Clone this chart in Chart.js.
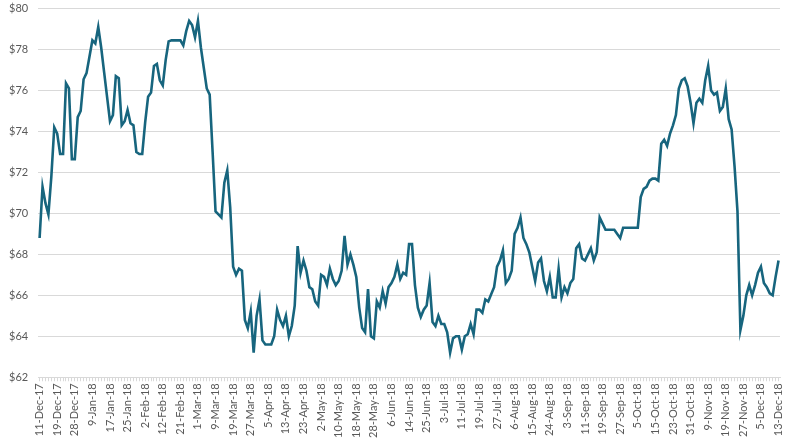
<!DOCTYPE html>
<html>
<head>
<meta charset="utf-8">
<title>Price</title>
<script src="https://cdn.jsdelivr.net/npm/chart.js@4/dist/chart.umd.min.js"></script>
<style>
    html, body { margin: 0; padding: 0; background: #ffffff; }
    #wrap { width: 798px; height: 446px; position: relative; }
</style>
</head>
<body>
<div id="wrap"><canvas id="priceChart"></canvas></div>
<script>
// ── DATA ─────────────────────────────────────────────────────────
// one labelled date every 6 trading days
const tickLabels = [
    '11-Dec-17', '19-Dec-17', '28-Dec-17', '9-Jan-18', '17-Jan-18', '25-Jan-18',
    '2-Feb-18', '12-Feb-18', '21-Feb-18', '1-Mar-18', '9-Mar-18', '19-Mar-18',
    '27-Mar-18', '5-Apr-18', '13-Apr-18', '23-Apr-18', '2-May-18', '10-May-18',
    '18-May-18', '28-May-18', '6-Jun-18', '14-Jun-18', '25-Jun-18', '3-Jul-18',
    '11-Jul-18', '19-Jul-18', '27-Jul-18', '6-Aug-18', '15-Aug-18', '24-Aug-18',
    '3-Sep-18', '11-Sep-18', '19-Sep-18', '27-Sep-18', '5-Oct-18', '15-Oct-18',
    '23-Oct-18', '31-Oct-18', '9-Nov-18', '19-Nov-18', '27-Nov-18', '5-Dec-18',
    '13-Dec-18'
];

// daily price, one row per labelled week block
const prices = [
    68.8, 71.3, 70.5, 69.95, 71.8, 74.2,
    73.9, 72.9, 72.9, 76.35, 76.1, 72.65,
    72.65, 74.7, 75.0, 76.55, 76.85, 77.65,
    78.45, 78.3, 79.1, 78.1, 76.9, 75.7,
    74.5, 74.8, 76.7, 76.6, 74.3, 74.5,
    75.05, 74.4, 74.3, 73.0, 72.9, 72.9,
    74.45, 75.7, 75.9, 77.2, 77.3, 76.5,
    76.25, 77.5, 78.4, 78.45, 78.45, 78.45,
    78.45, 78.2, 78.9, 79.4, 79.2, 78.6,
    79.4, 78.1, 77.1, 76.1, 75.8, 73.0,
    70.1, 69.95, 69.8, 71.5, 72.1, 70.3,
    67.4, 67.0, 67.3, 67.2, 64.8, 64.4,
    65.2, 63.2, 65.0, 65.8, 63.8, 63.6,
    63.6, 63.6, 64.0, 65.3, 64.8, 64.5,
    65.0, 64.0, 64.5, 65.5, 68.4, 67.1,
    67.7, 67.2, 66.4, 66.3, 65.7, 65.5,
    67.0, 66.9, 66.5, 67.3, 66.8, 66.5,
    66.7, 67.2, 68.9, 67.5, 68.0, 67.5,
    66.9, 65.4, 64.4, 64.2, 66.3, 64.0,
    63.9, 65.7, 65.4, 66.2, 65.6, 66.4,
    66.6, 66.9, 67.5, 66.8, 67.1, 67.0,
    68.5, 68.5, 66.5, 65.4, 64.95, 65.3,
    65.5, 66.6, 64.7, 64.5, 65.0, 64.6,
    64.6, 64.2, 63.2, 63.9, 64.0, 64.0,
    63.35, 64.0, 64.1, 64.6, 64.1, 65.3,
    65.3, 65.15, 65.8, 65.7, 66.05, 66.4,
    67.4, 67.7, 68.2, 66.6, 66.8, 67.2,
    69.0, 69.3, 69.8, 68.8, 68.5, 68.1,
    67.4, 66.7, 67.6, 67.8, 66.7, 66.2,
    66.9, 65.9, 65.9, 67.3, 65.9, 66.4,
    66.1, 66.6, 66.8, 68.3, 68.5, 67.8,
    67.7, 68.0, 68.3, 67.7, 68.1, 69.8,
    69.5, 69.2, 69.2, 69.2, 69.2, 69.0,
    68.8, 69.3, 69.3, 69.3, 69.3, 69.3,
    69.3, 70.8, 71.2, 71.3, 71.6, 71.7,
    71.7, 71.6, 73.4, 73.6, 73.3, 73.9,
    74.3, 74.8, 76.1, 76.5, 76.6, 76.2,
    75.4, 74.4, 75.4, 75.6, 75.4, 76.5,
    77.2, 76.0, 75.8, 75.9, 75.0, 75.2,
    76.1, 74.6, 74.1, 72.3, 70.1, 64.3,
    65.0, 66.0, 66.5, 66.0, 66.5, 67.1,
    67.4, 66.6, 66.4, 66.1, 66.0, 66.9,
    67.7
];

const yTicks = { min: 62, max: 80, step: 2 };

// ── CHART ────────────────────────────────────────────────────────
const labels = prices.map((_, i) => (i % 6 === 0 ? tickLabels[i / 6] : ''));

Chart.defaults.font.family = "'Lato', 'Open Sans', sans-serif";
Chart.defaults.color = '#595959';

new Chart(document.getElementById('priceChart'), {
    type: 'line',
    data: {
        labels: labels,
        datasets: [{
            data: prices,
            borderColor: '#17657e',
            borderWidth: 2.6,
            pointRadius: 0,
            tension: 0,
            fill: false
        }]
    },
    options: {
        responsive: true,
        maintainAspectRatio: false,
        animation: false,
        layout: { padding: { left: 7, right: 18, top: 0, bottom: 6 } },
        plugins: {
            legend: { display: false },
            tooltip: { enabled: false }
        },
        scales: {
            x: {
                type: 'category',
                offset: true,
                grid: {
                    display: true,
                    drawOnChartArea: false,
                    drawTicks: true,
                    tickLength: 4,
                    color: '#d9d9d9'
                },
                border: { display: true, color: '#d9d9d9' },
                ticks: {
                    autoSkip: false,
                    maxRotation: 90,
                    minRotation: 90,
                    padding: 2,
                    font: { size: 11 },
                    color: '#595959'
                }
            },
            y: {
                min: yTicks.min,
                max: yTicks.max,
                // invisible tick marks keep the gap between labels and plot
                grid: { color: '#d9d9d9', drawTicks: true, tickLength: 8, tickColor: 'rgba(0,0,0,0)' },
                border: { display: false },
                ticks: {
                    stepSize: yTicks.step,
                    padding: 2,
                    font: { size: 11 },
                    color: '#595959',
                    callback: v => '$' + v
                }
            }
        }
    }
});
</script>
</body>
</html>
